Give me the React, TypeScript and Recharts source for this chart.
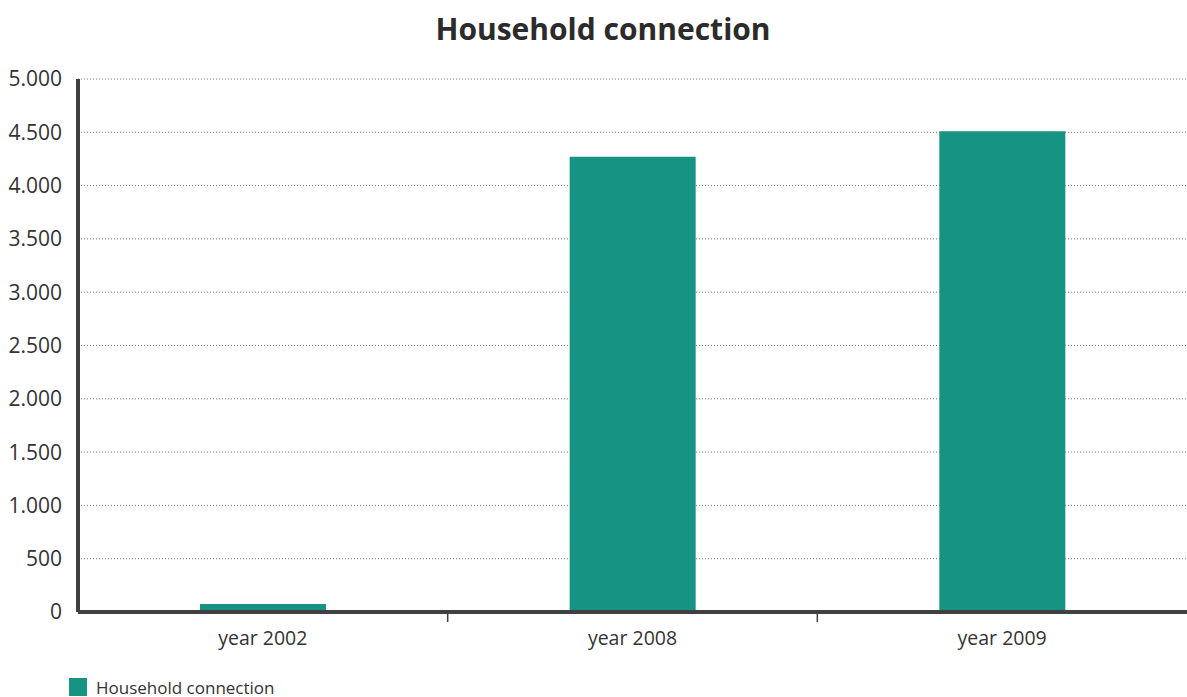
import { BarChart, Bar, XAxis, YAxis, CartesianGrid, Legend } from 'recharts';

const years = ['year 2002', 'year 2008', 'year 2009'];
const connections = [75, 4270, 4510];
const yTicks = [0, 500, 1000, 1500, 2000, 2500, 3000, 3500, 4000, 4500, 5000];

const data = years.map((y, i) => ({ year: y, value: connections[i] }));

const TEAL = '#179384';
const AXIS = '#404040';
const FONT = '"Open Sans", sans-serif';
const CHART_W = 1187;
const BAND = (CHART_W - 78) / years.length;

const fmt = (v: number) => v.toLocaleString('de-DE');

// tick label at the category centre, little tick mark on the left boundary
const YearTick = (props: any) => {
  const { x, y, payload, index } = props;
  const half = BAND / 2;
  return (
    <g>
      {index > 0 && <line x1={x - half} x2={x - half} y1={y - 6} y2={y + 2} stroke={AXIS} strokeWidth={1.5} />}
      <text x={x} y={y + 25} textAnchor="middle" fill="#333" fontSize={19.5} fontFamily={FONT}>
        {payload.value}
      </text>
    </g>
  );
};

const LegendBox = () => (
  <div style={{ height: 22, display: 'flex', alignItems: 'center', paddingLeft: 69, fontFamily: FONT, fontSize: 17, color: '#333' }}>
    <span style={{ width: 18, height: 18, background: TEAL, display: 'inline-block', marginRight: 9 }} />
    Household connection
  </div>
);

export default function App() {
  return (
    <div style={{ position: 'absolute', left: 0, top: 0, width: 1187, height: 697, overflow: 'hidden', background: '#fff' }}>
      <div style={{ position: 'absolute', top: 8, left: 603, transform: 'translateX(-50%)', whiteSpace: 'nowrap', fontFamily: FONT, fontWeight: 700, fontSize: 30, color: '#2b2b2b' }}>
        Household connection
      </div>
      <BarChart width={CHART_W} height={698} data={data} margin={{ top: 79, right: 0, bottom: 0, left: 0 }} barSize={126}>
        <CartesianGrid vertical={false} stroke="#777" strokeDasharray="1 2" />
        <XAxis dataKey="year" height={64} axisLine={{ stroke: AXIS, strokeWidth: 4 }} tickLine={false} tick={<YearTick />} interval={0} />
        <YAxis width={78} domain={[0, 5000]} ticks={yTicks} tickFormatter={fmt} axisLine={{ stroke: AXIS, strokeWidth: 4 }} tickLine={false} tickSize={0} tickMargin={16} tick={{ fill: '#333', fontSize: 21, fontFamily: FONT }} />
        <Legend verticalAlign="bottom" align="left" content={<LegendBox />} />
        <Bar dataKey="value" fill={TEAL} isAnimationActive={false} />
      </BarChart>
    </div>
  );
}
